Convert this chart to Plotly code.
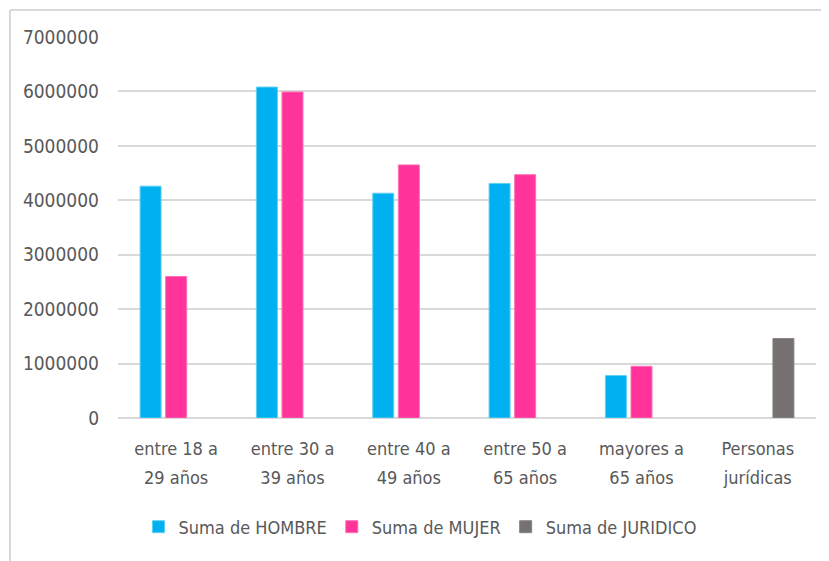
import plotly.graph_objects as go

cat_line1 = ["entre 18 a", "entre 30 a", "entre 40 a", "entre 50 a", "mayores a", "Personas"]
cat_line2 = ["29 años", "39 años", "49 años", "65 años", "65 años", "jurídicas"]
hombre = [4260000, 6080000, 4130000, 4310000, 780000, None]
mujer = [2600000, 5990000, 4650000, 4470000, 950000, None]
juridico = [None, None, None, None, None, 1460000]
y_ticks = [0, 1000000, 2000000, 3000000, 4000000, 5000000, 6000000, 7000000]

categories = [f"{a}<br>{b}" for a, b in zip(cat_line1, cat_line2)]
cat_text = [f'<span style="font-size:18px">{a}</span><br><span style="font-size:18px">{b}</span>'
            for a, b in zip(cat_line1, cat_line2)]

FONT = "Liberation Sans Narrow, DejaVu Sans Condensed, Arial Narrow, sans-serif"
TXT = "#595959"

fig = go.Figure()
fig.add_bar(x=categories, y=hombre, name="Suma de HOMBRE", marker_color="#00B0F0",
            marker_line=dict(color="#5FD0F5", width=1))
fig.add_bar(x=categories, y=mujer, name="Suma de MUJER", marker_color="#FF3399",
            marker_line=dict(color="#FF6FB5", width=1))
fig.add_bar(x=categories, y=juridico, name="Suma de JURIDICO", marker_color="#767171",
            marker_line=dict(color="#8A8585", width=1))

OFF = 8  # page body margin
W, H = 829 - OFF, 561 - OFF
L, R, T = 118 - OFF, 13, 37 - OFF
ph = 381
B = H - T - ph
pw = W - L - R

border = dict(color="#D9D9D9", width=2)
fig.update_layout(
    width=W, height=H,
    margin=dict(l=L, r=R, t=T, b=B, autoexpand=False),
    paper_bgcolor="white", plot_bgcolor="white",
    barmode="group", bargap=0.34, bargroupgap=0.18,
    font=dict(family=FONT, size=18, color=TXT),
    showlegend=True,
    legend=dict(orientation="h", x=(420 - 118) / pw, xanchor="center",
                y=-(527 - 418) / ph, yanchor="middle",
                font=dict(family=FONT, size=18, color=TXT), traceorder="normal",
                itemwidth=30),
    xaxis=dict(showgrid=False, showline=False, zeroline=False, ticks="",
               tickmode="array", tickvals=categories, ticktext=cat_text,
               ticklabelstandoff=14,
               tickfont=dict(family=FONT, size=22, color=TXT)),
    yaxis=dict(range=[0, 7000000], tickvals=y_ticks, tickformat="d",
               showgrid=True, gridcolor="#D9D9D9", gridwidth=2,
               zeroline=True, zerolinecolor="#D9D9D9", zerolinewidth=2,
               showline=False, ticks="", ticklabelstandoff=18,
               tickfont=dict(family=FONT, size=19, color=TXT)),
    shapes=[
        dict(type="line", xref="paper", yref="paper",
             x0=(10 - 118) / pw, x1=(829 - 118) / pw, y0=1 + (37 - 10) / ph, y1=1 + (37 - 10) / ph,
             line=border, layer="below"),
        dict(type="line", xref="paper", yref="paper",
             x0=(10 - 118) / pw, x1=(10 - 118) / pw, y0=1 + (37 - 10) / ph, y1=-(561 - 418) / ph,
             line=border, layer="below"),
    ],
)

fig.write_html("out.html")
